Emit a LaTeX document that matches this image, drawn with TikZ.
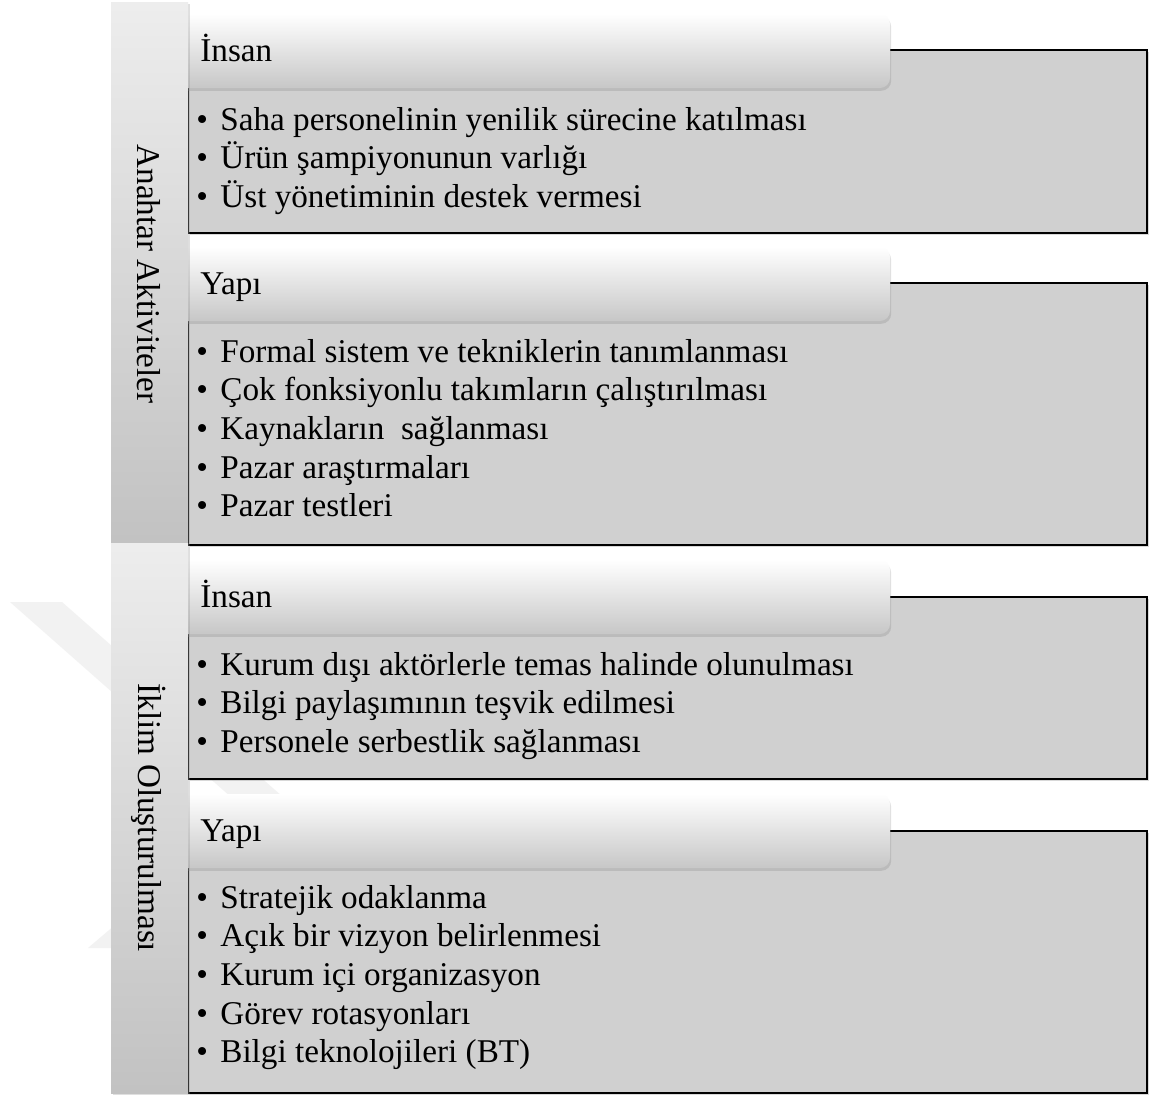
\documentclass[tikz,border=0pt]{standalone}
\usepackage{fontspec}
\setmainfont{Liberation Serif}
\usetikzlibrary{shadows}

\newcommand{\bul}{\makebox[12pt][l]{\textbullet}}

\begin{document}
\begin{tikzpicture}[
  x=0.5pt, y=-0.5pt,
  font=\fontsize{16.6}{20}\selectfont,
  pbody/.style={fill=black!18.5,draw=black,line width=0.8pt,
    drop shadow={shadow xshift=0.8pt,shadow yshift=-0.8pt,opacity=0.3}},
  phead/.style={top color=white,bottom color=black!22,rounded corners=5pt,
    drop shadow={shadow xshift=0.6pt,shadow yshift=-1.4pt,opacity=0.25}},
  sidebar/.style={top color=black!7,bottom color=black!24,
    drop shadow={shadow xshift=0.8pt,shadow yshift=-0.8pt,opacity=0.25}},
  htext/.style={anchor=base west,inner sep=0pt},
  itm/.style={anchor=base west,inner sep=0pt},
  vlbl/.style={rotate=-90,inner sep=0pt}
]
\useasboundingbox[fill=white] (0,0) rectangle (1152,1098);

% ---- watermark ----
\fill[black!5] (10,602) -- (62,602) -- (300,812) -- (140,948) -- (88,948) -- (248,812) -- cycle;

% ---- panels ----
\newcommand{\panel}[7]{%
  \draw[pbody] (188,#2) rectangle (1147,#3);
  \path[phead] (172,#1) rectangle (890,{#1+74});
  \node[htext] (#4) at (200,{#1+47}) {#5};
  \foreach \t [count=\i from 0] in {#6}
    \node[itm] (#4-\i) at (196,{#7+38.7*\i}) {\bul\t};
}

\panel{14}{50}{233}{insanA}{İnsan}
  {Saha personelinin yenilik sürecine katılması,
   Ürün şampiyonunun varlığı,
   Üst yönetiminin destek vermesi}{130}
\panel{247}{283}{545}{yapiA}{Yapı}
  {Formal sistem ve tekniklerin tanımlanması,
   Çok fonksiyonlu takımların çalıştırılması,
   Kaynakların~ sağlanması,
   Pazar araştırmaları,
   Pazar testleri}{362}
\panel{560}{597}{779}{insanB}{İnsan}
  {Kurum dışı aktörlerle temas halinde olunulması,
   Bilgi paylaşımının teşvik edilmesi,
   Personele serbestlik sağlanması}{675}
\panel{794}{831}{1093}{yapiB}{Yapı}
  {Stratejik odaklanma,
   Açık bir vizyon belirlenmesi,
   Kurum içi organizasyon,
   Görev rotasyonları,
   Bilgi teknolojileri (BT)}{908}

% ---- side bars ----
\path[sidebar] (111,2) rectangle (188,543);
\path[sidebar] (111,543) rectangle (188,1093);
\node[vlbl] (anahtar) at (149,274) {Anahtar Aktiviteler};
\node[vlbl] (iklim) at (149,818) {İklim Oluşturulması};

\end{tikzpicture}
\end{document}
